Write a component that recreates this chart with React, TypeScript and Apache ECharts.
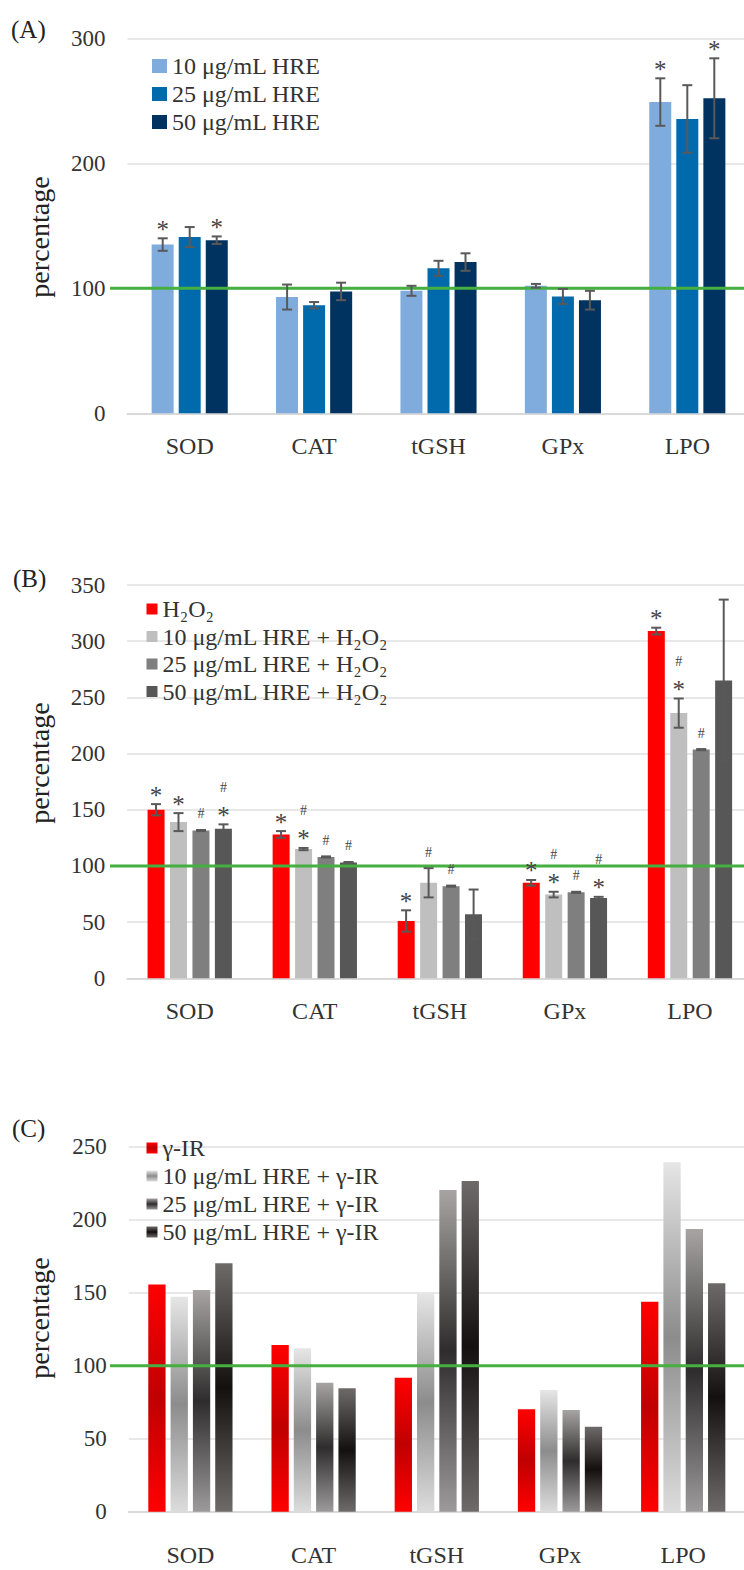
import React, { useEffect, useRef } from "react";
import * as echarts from "echarts";

const categories = ["SOD", "CAT", "tGSH", "GPx", "LPO"];

// Panel A
const namesA = ["10 μg/mL HRE", "25 μg/mL HRE", "50 μg/mL HRE"];
const meanA10 = [135, 93, 98, 102, 249];
const errA10 = [5, 10, 4, 1.5, 19];
const meanA25 = [141, 86.5, 116, 93.5, 235.5];
const errA25 = [8, 2.5, 6, 6, 27];
const meanA50 = [138.5, 97.5, 121, 90.5, 252];
const errA50 = [3, 7, 7, 7.5, 32];
const sigA10 = ["*", "", "", "", "*"];
const sigA25 = ["", "", "", "", ""];
const sigA50 = ["*", "", "", "", "*"];
const ticksA = { min: 0, max: 300, interval: 100 };

// Panel B
const namesB = ["H₂O₂", "10 μg/mL HRE + H₂O₂", "25 μg/mL HRE + H₂O₂", "50 μg/mL HRE + H₂O₂"];
const meanBH = [150, 128, 51, 85, 309];
const errBH = [5, 3, 9.5, 2.5, 3];
const meanB10 = [139, 115, 85, 74.5, 236];
const errB10 = [8, 1, 13, 2.5, 13];
const meanB25 = [131.5, 108, 82, 76.5, 203.5];
const errB25 = [0.5, 0.5, 0.5, 0.5, 0.5];
const meanB50 = [133, 103, 57, 71.5, 265];
const errB50 = [4, 0.5, 22, 1, 72];
const sigBH = ["*", "*", "*", "*", "*"];
const sigB10 = ["*", "#*", "#", "#*", "#*"];
const sigB25 = ["#", "#", "#", "#", "#"];
const sigB50 = ["#*", "#", "", "#*", ""];
const ticksB = { min: 0, max: 350, interval: 50 };

// Panel C
const namesC = ["γ-IR", "10 μg/mL HRE + γ-IR", "25 μg/mL HRE + γ-IR", "50 μg/mL HRE + γ-IR"];
const valC_IR = [155.7, 114.2, 91.8, 70.1, 143.8];
const valC10 = [147.3, 111.9, 149.6, 83.4, 239.3];
const valC25 = [151.8, 88.4, 220.3, 69.7, 193.6];
const valC50 = [170.1, 84.5, 226.5, 58.2, 156.4];
const ticksC = { min: 0, max: 250, interval: 50 };

const referenceValue = 100;

const FONT = "Liberation Serif";
const TXT = "#333333";

function vgrad(top: string, mid: string, bot: string) {
  return {
    type: "linear", x: 0, y: 0, x2: 0, y2: 1,
    colorStops: [
      { offset: 0, color: top },
      { offset: 0.5, color: mid },
      { offset: 1, color: bot },
    ],
  };
}

export default function App() {
  const ref = useRef<HTMLDivElement>(null);
  useEffect(() => {
    if (!ref.current) return;
    const chart = echarts.init(ref.current, null, { renderer: "svg" });

    const grids = [
      { left: 127.5, right: 10.5, top: 38.3, height: 375 },
      { left: 127.2, right: 7.5, top: 585, height: 393.3 },
      { left: 128.8, right: 15.2, top: 1146.7, height: 365 },
    ];
    const labelMargins = [21, 21, 31];
    const ticks = [ticksA, ticksB, ticksC];

    const xAxes = grids.map((_, k) => ({
      type: "category",
      gridIndex: k,
      data: categories,
      axisTick: { show: false },
      axisLine: { show: true, lineStyle: { color: "#d9d9d9", width: 2 } },
      axisLabel: { fontFamily: FONT, fontSize: 24, color: TXT, margin: labelMargins[k] },
    }));
    const yAxes = grids.map((_, k) => ({
      type: "value",
      gridIndex: k,
      min: ticks[k].min,
      max: ticks[k].max,
      interval: ticks[k].interval,
      axisLine: { show: false },
      axisTick: { show: false },
      splitLine: { lineStyle: { color: "#e8e8e8", width: 2 } },
      axisLabel: { fontFamily: FONT, fontSize: 23, color: TXT, margin: 22 },
    }));

    const series: any[] = [];

    const addRef = (k: number) => {
      series.push({
        type: "custom",
        xAxisIndex: k,
        yAxisIndex: k,
        z: 4,
        silent: true,
        data: [[0, referenceValue]],
        renderItem: (params: any, api: any) => {
          const p = api.coord([0, api.value(1)]);
          return {
            type: "line",
            shape: { x1: 110, y1: p[1], x2: 760, y2: p[1] },
            style: { stroke: "#45b040", lineWidth: 3 },
          };
        },
      });
    };

    const addBars = (k: number, name: string, vals: number[], color: any, w: number, gap: string) => {
      series.push({
        type: "bar",
        name,
        xAxisIndex: k,
        yAxisIndex: k,
        data: vals,
        barWidth: w,
        barGap: gap,
        itemStyle: { color },
        z: 2,
      });
    };

    const addErr = (k: number, means: number[], errs: number[], sigs: string[], idx: number, n: number, w: number, g: number) => {
      series.push({
        type: "custom",
        xAxisIndex: k,
        yAxisIndex: k,
        z: 6,
        silent: true,
        data: means.map((m, i) => [i, m, errs[i]]),
        renderItem: (params: any, api: any) => {
          const i = api.value(0);
          const m = api.value(1);
          const e = api.value(2);
          const off = (idx - (n - 1) / 2) * (w + g);
          const hi = api.coord([i, m + e]);
          const lo = api.coord([i, m - e]);
          const x = hi[0] + off;
          const st = { stroke: "#595959", lineWidth: 2 };
          const children: any[] = [
            { type: "line", shape: { x1: x, y1: hi[1], x2: x, y2: lo[1] }, style: st },
            { type: "line", shape: { x1: x - 5, y1: hi[1], x2: x + 5, y2: hi[1] }, style: st },
            { type: "line", shape: { x1: x - 5, y1: lo[1], x2: x + 5, y2: lo[1] }, style: st },
          ];
          const s = sigs[params.dataIndex] || "";
          const hasStar = s.indexOf("*") >= 0;
          const hasHash = s.indexOf("#") >= 0;
          if (hasStar) {
            children.push({
              type: "text",
              style: {
                x, y: hi[1] - 9, text: "*", fontFamily: FONT, fontSize: 25,
                fill: "#444", align: "center", verticalAlign: "middle",
              },
            });
          }
          if (hasHash) {
            children.push({
              type: "text",
              style: {
                x, y: hi[1] - (hasStar ? 37 : 16), text: "#", fontFamily: FONT, fontSize: 14,
                fill: "#444", align: "center", verticalAlign: "middle",
              },
            });
          }
          return { type: "group", children };
        },
      });
    };

    // Panel A
    const colA = ["#7facdc", "#006aad", "#00335f"];
    addBars(0, namesA[0], meanA10, colA[0], 22, "23%");
    addBars(0, namesA[1], meanA25, colA[1], 22, "23%");
    addBars(0, namesA[2], meanA50, colA[2], 22, "23%");
    addRef(0);
    addErr(0, meanA10, errA10, sigA10, 0, 3, 22, 5);
    addErr(0, meanA25, errA25, sigA25, 1, 3, 22, 5);
    addErr(0, meanA50, errA50, sigA50, 2, 3, 22, 5);

    // Panel B
    const colB = ["#ff0000", "#bfbfbf", "#7f7f7f", "#575757"];
    addBars(1, namesB[0], meanBH, colB[0], 17, "32%");
    addBars(1, namesB[1], meanB10, colB[1], 17, "32%");
    addBars(1, namesB[2], meanB25, colB[2], 17, "32%");
    addBars(1, namesB[3], meanB50, colB[3], 17, "32%");
    addRef(1);
    addErr(1, meanBH, errBH, sigBH, 0, 4, 17, 5.5);
    addErr(1, meanB10, errB10, sigB10, 1, 4, 17, 5.5);
    addErr(1, meanB25, errB25, sigB25, 2, 4, 17, 5.5);
    addErr(1, meanB50, errB50, sigB50, 3, 4, 17, 5.5);

    // Panel C
    const colC = [
      vgrad("#ff0000", "#c00000", "#ff0000"),
      vgrad("#e6e6e6", "#8c8c8c", "#dcdcdc"),
      vgrad("#a8a4a4", "#2e2c2c", "#9c9a9a"),
      vgrad("#6e6a6a", "#141010", "#6e6a6a"),
    ];
    addBars(2, namesC[0], valC_IR, colC[0], 17.3, "29%");
    addBars(2, namesC[1], valC10, colC[1], 17.3, "29%");
    addBars(2, namesC[2], valC25, colC[2], 17.3, "29%");
    addBars(2, namesC[3], valC50, colC[3], 17.3, "29%");
    addRef(2);

    const legendText = { fontFamily: FONT, fontSize: 24, color: TXT };

    chart.setOption({
      animation: false,
      backgroundColor: "#ffffff",
      textStyle: { fontFamily: FONT },
      grid: grids,
      xAxis: xAxes,
      yAxis: yAxes,
      legend: [
        {
          data: namesA, orient: "vertical", left: 147, top: 49, itemWidth: 15, itemHeight: 14,
          itemGap: 4, icon: "rect", selectedMode: false,
          textStyle: { ...legendText, lineHeight: 24 },
        },
        {
          data: namesB, orient: "vertical", left: 141.5, top: 592, itemWidth: 11, itemHeight: 11,
          itemGap: 3.5, icon: "rect", selectedMode: false,
          textStyle: { ...legendText, lineHeight: 22 },
        },
        {
          data: namesC, orient: "vertical", left: 141.5, top: 1131, itemWidth: 11, itemHeight: 11,
          itemGap: 4, icon: "rect", selectedMode: false,
          textStyle: { ...legendText, lineHeight: 22 },
        },
      ],
      graphic: [
        { type: "text", x: 11, y: 29, style: { text: "(A)", fontFamily: FONT, fontSize: 25, fill: "#222", verticalAlign: "middle" } },
        { type: "text", x: 13, y: 578, style: { text: "(B)", fontFamily: FONT, fontSize: 25, fill: "#222", verticalAlign: "middle" } },
        { type: "text", x: 12, y: 1128, style: { text: "(C)", fontFamily: FONT, fontSize: 25, fill: "#222", verticalAlign: "middle" } },
        { type: "text", x: 39, y: 237, rotation: Math.PI / 2, style: { text: "percentage", fontFamily: FONT, fontSize: 28, fill: "#222", align: "center", verticalAlign: "middle" } },
        { type: "text", x: 39, y: 763, rotation: Math.PI / 2, style: { text: "percentage", fontFamily: FONT, fontSize: 28, fill: "#222", align: "center", verticalAlign: "middle" } },
        { type: "text", x: 39, y: 1318, rotation: Math.PI / 2, style: { text: "percentage", fontFamily: FONT, fontSize: 28, fill: "#222", align: "center", verticalAlign: "middle" } },
      ],
      series,
    });
    return () => chart.dispose();
  }, []);

  return (
    <div style={{ position: "absolute", left: 0, top: 0, width: 744, height: 1570, overflow: "hidden", background: "#fff" }}>
      <div ref={ref} style={{ width: 760, height: 1570 }} />
    </div>
  );
}
